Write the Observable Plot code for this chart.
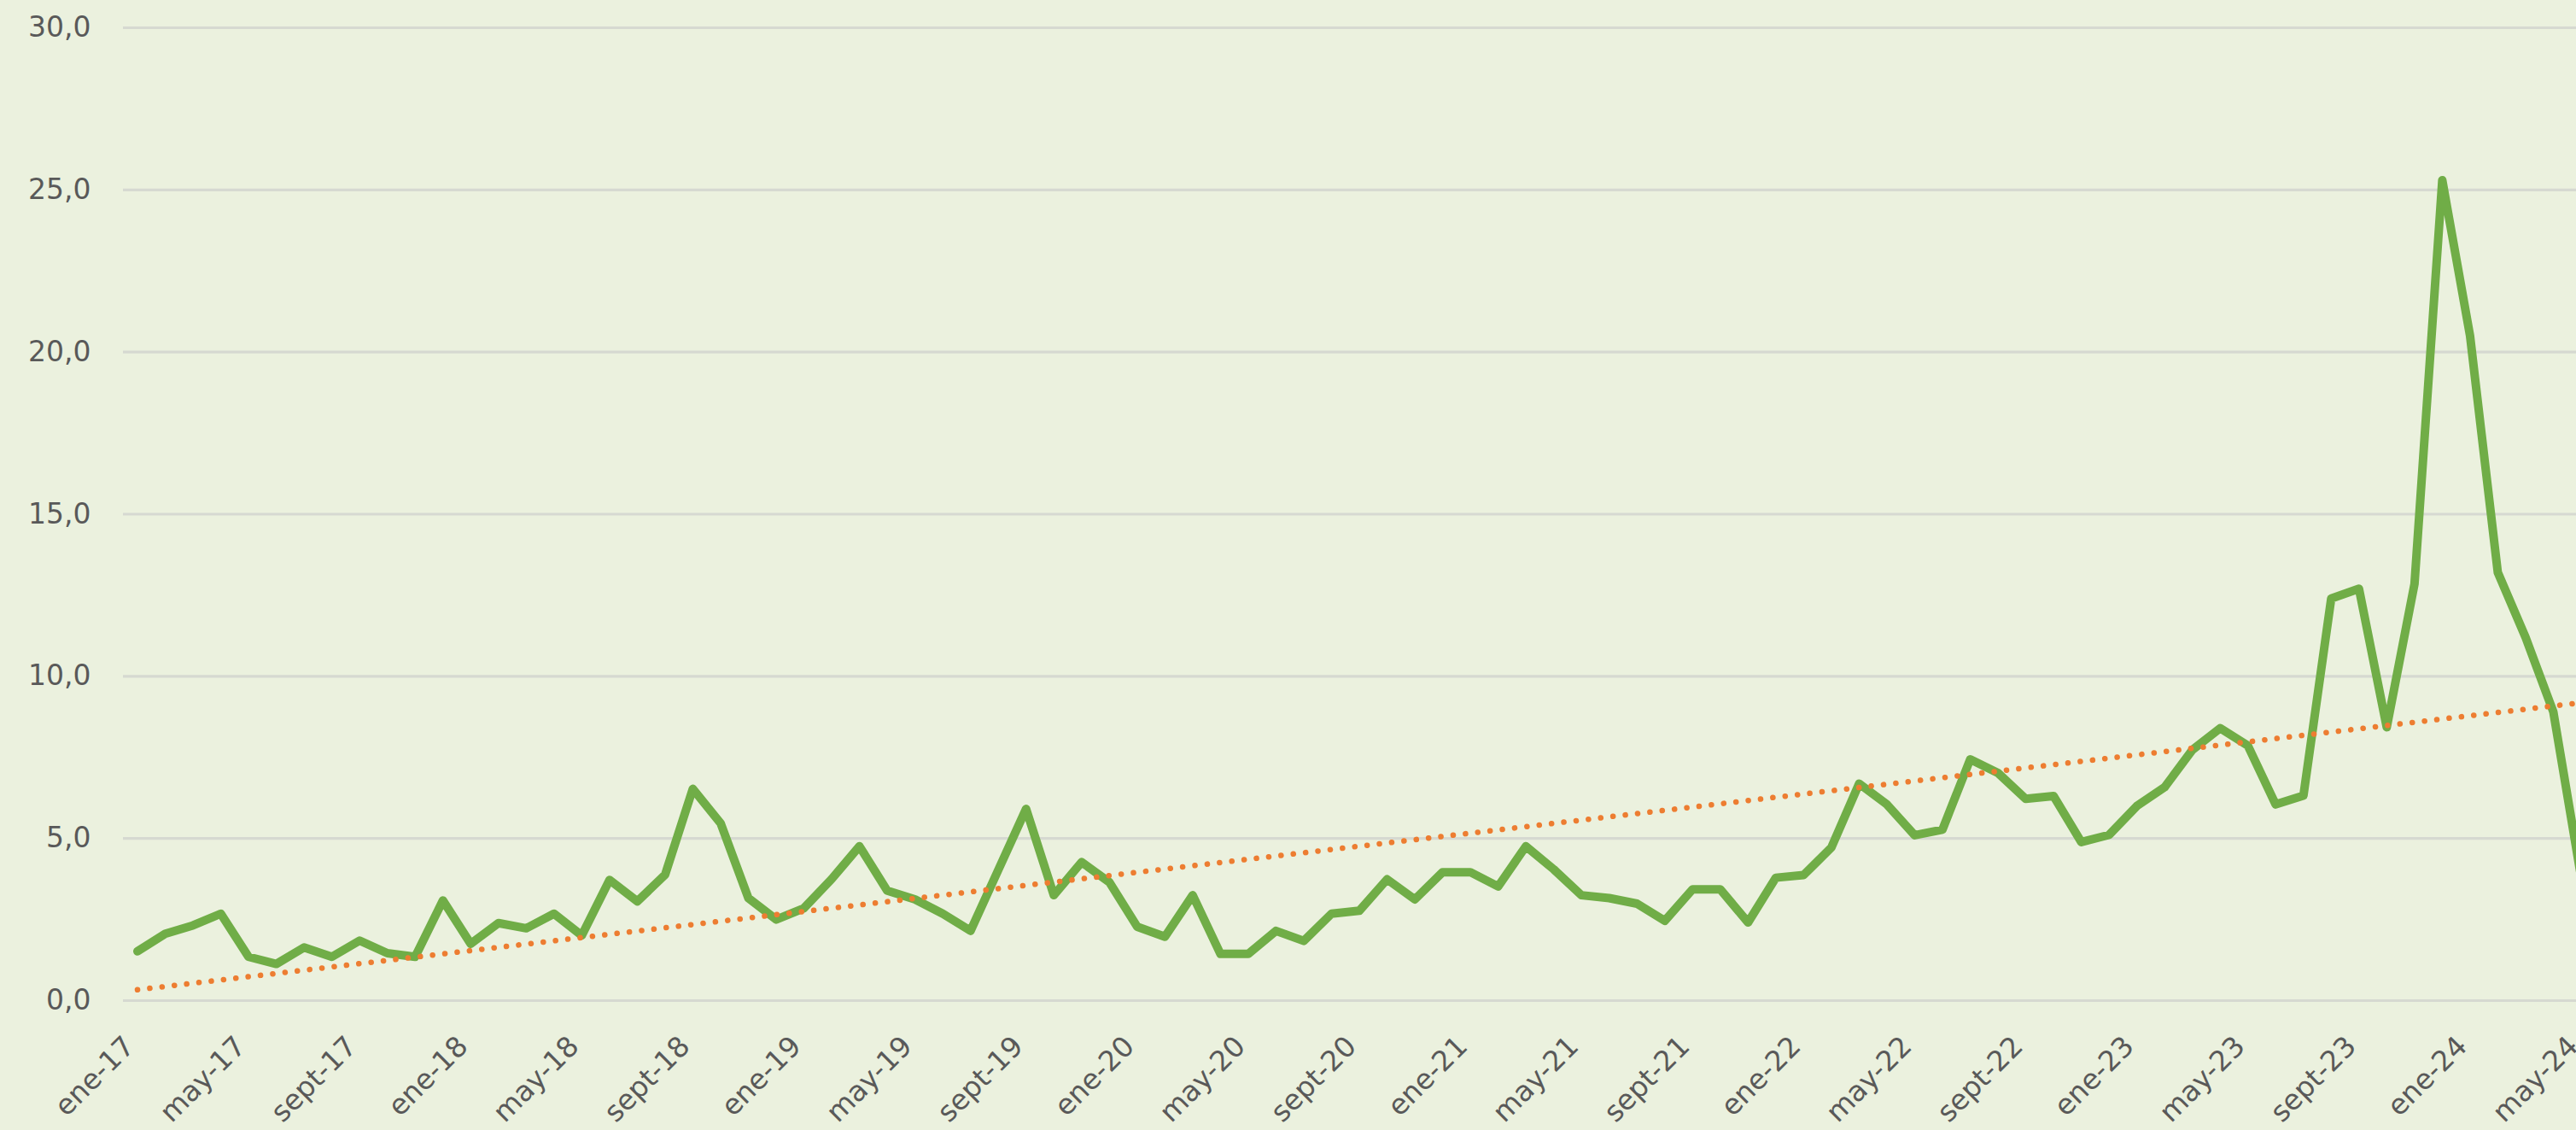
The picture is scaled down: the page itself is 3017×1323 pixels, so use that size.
<!DOCTYPE html>
<html>
<head>
<meta charset="utf-8">
<script src="https://cdn.jsdelivr.net/npm/d3@7"></script>
<script src="https://cdn.jsdelivr.net/npm/@observablehq/plot@0.6"></script>
<style>
  html, body { margin: 0; padding: 0; background: #ebf1de; overflow: hidden; }
  #chart svg { display: block; }
</style>
</head>
<body>
<div id="chart"></div>
<script>
// Month abbreviations (Spanish) used for the category labels
const monthNames = ["ene","feb","mar","abr","may","jun","jul","ago","sept","oct","nov","dic"];
const startYear = 2017;

// Monthly values, ene-17 … may-24
const values = [
  1.52, 2.06, 2.32, 2.68, 1.35, 1.13, 1.64, 1.35, 1.85, 1.46, 1.35, 3.09,   // 2017
  1.75, 2.39, 2.23, 2.68, 2.01, 3.72, 3.06, 3.88, 6.53, 5.47, 3.16, 2.50,   // 2018
  2.85, 3.75, 4.76, 3.39, 3.12, 2.68, 2.15, 4.03, 5.91, 3.25, 4.27, 3.65,   // 2019
  2.28, 1.97, 3.25, 1.44, 1.44, 2.15, 1.84, 2.68, 2.77, 3.74, 3.12, 3.96,   // 2020
  3.96, 3.52, 4.76, 4.05, 3.25, 3.16, 2.99, 2.46, 3.43, 3.43, 2.41, 3.79,   // 2021
  3.87, 4.72, 6.69, 6.05, 5.10, 5.27, 7.44, 7.02, 6.22, 6.31, 4.89, 5.11,   // 2022
  6.00, 6.58, 7.73, 8.40, 7.86, 6.05, 6.32, 12.40, 12.70, 8.43, 12.85, 25.30, // 2023
  20.50, 13.20, 11.20, 8.90, 3.80                                          // 2024
];

const categories = values.map((_, i) =>
  `${monthNames[i % 12]}-${String((startYear + Math.floor(i / 12)) % 100).padStart(2, "0")}`);
const tickIndices = values.map((_, i) => i).filter(i => i % 4 === 0);
const yTicks = [0, 5, 10, 15, 20, 25, 30];

const data = values.map((v, i) => ({ i, cat: categories[i], v }));

const fmt = d => d.toFixed(1).replace(".", ",");

const chart = Plot.plot({
  width: 3017,
  height: 1323,
  marginLeft: 144,
  marginRight: 0,
  marginTop: 32,
  marginBottom: 152,
  style: {
    background: "#ebf1de",
    fontFamily: "'DejaVu Sans', sans-serif",
    fontSize: "33px",
    color: "#595959",
    overflow: "hidden"
  },
  x: { type: "linear", domain: [0, values.length - 1], range: [160.5, 3022.5], label: null },
  y: { domain: [0, 30], label: null },
  marks: [
    Plot.ruleY(yTicks, { stroke: "#d6d9d1", strokeWidth: 3.2 }),
    Plot.axisY(yTicks, {
      tickSize: 0, tickPadding: 38, tickFormat: fmt, label: null,
      fill: "#595959", fontSize: 33
    }),
    Plot.axisX(tickIndices, {
      tickSize: 0, tickPadding: 48, tickRotate: -45, dx: -9,
      tickFormat: i => categories[i], label: null,
      fill: "#595959", fontSize: 33
    }),
    Plot.line(data, {
      x: "i", y: "v", stroke: "#70ad47", strokeWidth: 10,
      strokeLinejoin: "round", strokeLinecap: "round", clip: true
    }),
    Plot.linearRegressionY(data, {
      x: "i", y: "v", ci: 0, stroke: "#ed7d31", strokeWidth: 6.5,
      strokeDasharray: "0.1 14.4", strokeLinecap: "round", clip: true
    })
  ]
});

document.getElementById("chart").appendChild(chart);
</script>
</body>
</html>
